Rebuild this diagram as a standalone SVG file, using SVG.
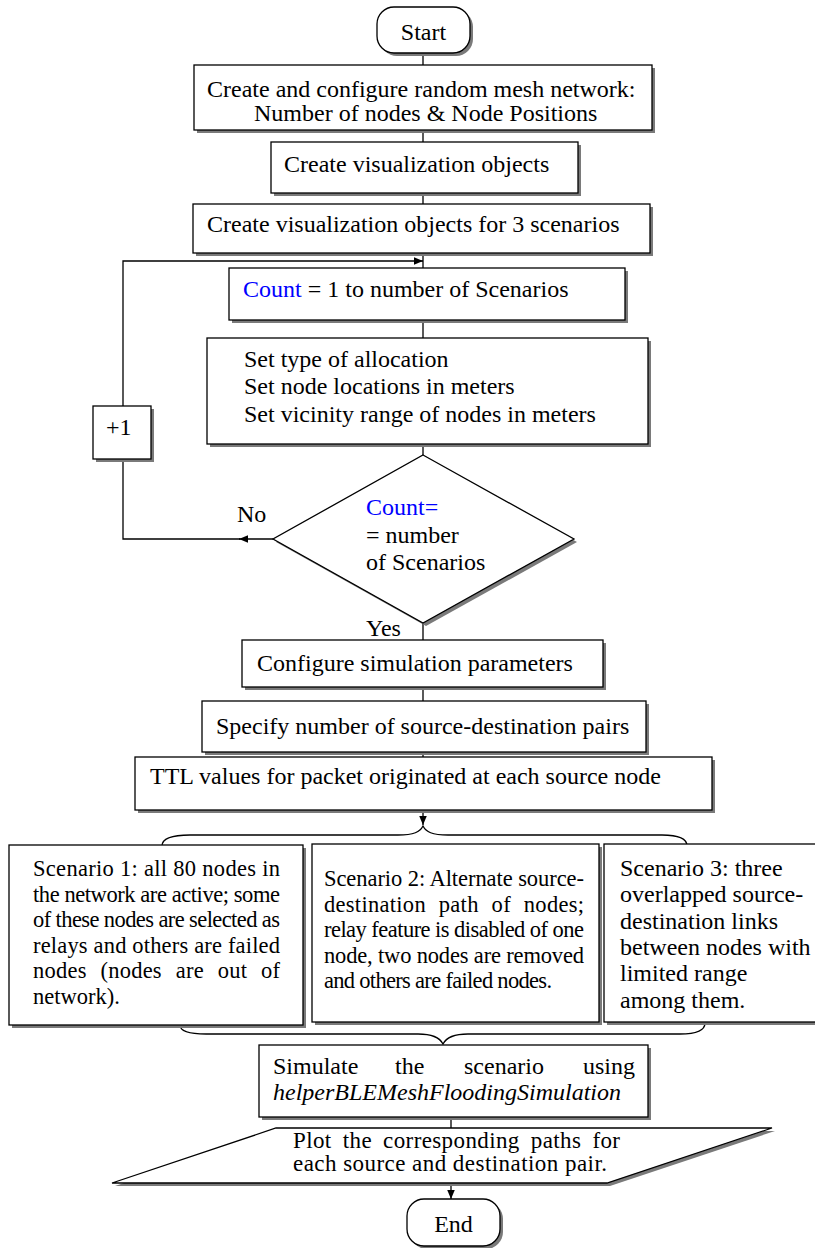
<svg xmlns="http://www.w3.org/2000/svg" width="815" height="1248" viewBox="0 0 815 1248">
<style>
.bx{fill:#fff;stroke:#000;stroke-width:1.3}
.sh{fill:#7a7a7a;stroke:none}
.ln{fill:none;stroke:#000;stroke-width:1.3}
.t{font-family:"Liberation Serif","Times New Roman",serif;font-size:24px;fill:#000}
.s{font-size:22.5px}
.p{font-size:23px}
.blue{fill:#0000ff}
.it{font-style:italic}
</style>
<defs>
<marker id="ah" viewBox="0 0 10 10" refX="10" refY="5" markerWidth="9" markerHeight="9" markerUnits="userSpaceOnUse" orient="auto">
<path d="M0,0.8 L10,5 L0,9.2 z" fill="#000"/>
</marker>
</defs>
<rect width="815" height="1248" fill="#fff"/>

<g id="connectors">
<path class="ln" d="M423,53 V65"/>
<path class="ln" d="M423,130 V142"/>
<path class="ln" d="M423,193 V204"/>
<path class="ln" d="M423,253 V268"/>
<path class="ln" d="M423,320 V338"/>
<path class="ln" d="M423,444 V455"/>
<path class="ln" d="M423,623 V640"/>
<path class="ln" d="M423,687 V701"/>
<path class="ln" d="M423,752 V757"/>
<path class="ln" d="M123,406 V261 H423" marker-end="url(#ah)"/>
<path class="ln" d="M273,539 H239" marker-end="url(#ah)"/>
<path class="ln" d="M240,539 H123 V459"/>
<path class="ln" d="M423,810 V825" marker-end="url(#ah)"/>
<path class="ln" d="M162,846 C162,838 172,835 190,835 L398,835 C414,835 420,832 423,826 C426,832 432,835 448,835 L662,835 C678,835 687,838 687,846"/>
<path class="ln" d="M180,1025 C180,1031 190,1034 206,1034 L418,1034 C434,1034 440,1038 443,1044 C446,1038 452,1034 468,1034 L680,1034 C696,1034 705,1030 705,1023"/>
<path class="ln" d="M451,1117 V1128"/>
<path class="ln" d="M451,1183 V1199" marker-end="url(#ah)"/>
<text class="t" x="237" y="522">No</text>
<text class="t" x="366" y="636">Yes</text>
</g>

<g id="start">
<rect class="sh" x="380" y="10" width="93" height="46" rx="17"/>
<rect class="bx" x="377" y="7" width="93" height="46" rx="17"/>
<text class="t" x="423.5" y="40" text-anchor="middle">Start</text>
</g>

<g id="create-network">
<rect class="sh" x="197" y="68" width="458" height="65"/>
<rect class="bx" x="194" y="65" width="458" height="65"/>
<text class="t" x="207" y="97">Create and configure random mesh network:</text>
<text class="t" x="254" y="121">Number of nodes &amp; Node Positions</text>
</g>

<g id="create-vis">
<rect class="sh" x="274" y="145" width="307" height="51"/>
<rect class="bx" x="271" y="142" width="307" height="51"/>
<text class="t" x="284" y="172">Create visualization objects</text>
</g>

<g id="create-vis3">
<rect class="sh" x="196" y="207" width="457" height="49"/>
<rect class="bx" x="193" y="204" width="457" height="49"/>
<text class="t" x="207" y="232">Create visualization objects for 3 scenarios</text>
</g>

<g id="count-loop">
<rect class="sh" x="232" y="271" width="396" height="52"/>
<rect class="bx" x="229" y="268" width="396" height="52"/>
<text class="t" x="243" y="297"><tspan class="blue">Count</tspan> = 1 to number of Scenarios</text>
</g>

<g id="set-params">
<rect class="sh" x="210" y="341" width="441" height="106"/>
<rect class="bx" x="207" y="338" width="441" height="106"/>
<text class="t" x="244" y="367">Set type of allocation</text>
<text class="t" x="244" y="394">Set node locations in meters</text>
<text class="t" x="244" y="422">Set vicinity range of nodes in meters</text>
</g>

<g id="plus-one">
<rect class="sh" x="96" y="409" width="58" height="53"/>
<rect class="bx" x="93" y="406" width="58" height="53"/>
<text class="t" x="106" y="435">+1</text>
</g>

<g id="decision">
<polygon class="sh" points="426,458 577,542 426,626 276,542"/>
<polygon class="bx" points="423,455 574,539 423,623 273,539"/>
<text class="t" x="366" y="515"><tspan class="blue">Count=</tspan></text>
<text class="t" x="366" y="543">= number</text>
<text class="t" x="366" y="570">of Scenarios</text>
</g>

<g id="configure">
<rect class="sh" x="245" y="643" width="361" height="47"/>
<rect class="bx" x="242" y="640" width="361" height="47"/>
<text class="t" x="257" y="671">Configure simulation parameters</text>
</g>

<g id="specify">
<rect class="sh" x="205" y="704" width="444" height="51"/>
<rect class="bx" x="202" y="701" width="444" height="51"/>
<text class="t" x="216" y="734">Specify number of source-destination pairs</text>
</g>

<g id="ttl">
<rect class="sh" x="138" y="760" width="577" height="53"/>
<rect class="bx" x="135" y="757" width="577" height="53"/>
<text class="t" x="150" y="784">TTL values for packet originated at each source node</text>
</g>

<g id="scenario1">
<rect class="sh" x="12" y="848" width="294" height="180"/>
<rect class="bx" x="9" y="845" width="294" height="180"/>
<text class="t s" x="33" y="876" textLength="247" lengthAdjust="spacing">Scenario 1: all 80 nodes in</text>
<text class="t s" x="33" y="901.5" textLength="247" lengthAdjust="spacing">the network are active; some</text>
<text class="t s" x="33" y="927" textLength="247" lengthAdjust="spacing">of these nodes are selected as</text>
<text class="t s" x="33" y="952.5" textLength="247" lengthAdjust="spacing">relays and others are failed</text>
<text class="t s" x="33" y="978" word-spacing="8" textLength="247" lengthAdjust="spacing">nodes (nodes are out of</text>
<text class="t s" x="33" y="1003.5">network).</text>
</g>

<g id="scenario2">
<rect class="sh" x="315" y="847" width="287" height="178"/>
<rect class="bx" x="312" y="844" width="287" height="178"/>
<text class="t s" x="324" y="886" textLength="260" lengthAdjust="spacing">Scenario 2: Alternate source-</text>
<text class="t s" x="324" y="911.5" word-spacing="7" textLength="260" lengthAdjust="spacing">destination path of nodes;</text>
<text class="t s" x="324" y="937" textLength="260" lengthAdjust="spacing">relay feature is disabled of one</text>
<text class="t s" x="324" y="962.5" textLength="260" lengthAdjust="spacing">node, two nodes are removed</text>
<text class="t s" x="324" y="988" textLength="228" lengthAdjust="spacing">and others are failed nodes.</text>
</g>

<g id="scenario3">
<rect class="sh" x="607" y="847" width="230" height="178"/>
<rect class="bx" x="604" y="844" width="230" height="178"/>
<text class="t" x="620" y="876">Scenario 3: three</text>
<text class="t" x="620" y="902">overlapped source-</text>
<text class="t" x="620" y="929">destination links</text>
<text class="t" x="620" y="955">between nodes with</text>
<text class="t" x="620" y="981">limited range</text>
<text class="t" x="620" y="1008">among them.</text>
</g>

<g id="simulate">
<rect class="sh" x="262" y="1048" width="389" height="72"/>
<rect class="bx" x="259" y="1045" width="389" height="72"/>
<text class="t" y="1074"><tspan x="273">Simulate</tspan><tspan x="395">the</tspan><tspan x="464">scenario</tspan><tspan x="583">using</tspan></text>
<text class="t it" x="273" y="1100">helperBLEMeshFloodingSimulation</text>
</g>

<g id="plot">
<polygon class="sh" points="279,1131 775,1131 610,1186 115,1186"/>
<polygon class="bx" points="276,1128 772,1128 607,1183 112,1183"/>
<text class="t p" x="293" y="1148" word-spacing="5" textLength="327" lengthAdjust="spacing">Plot the corresponding paths for</text>
<text class="t p" x="293" y="1171" textLength="314" lengthAdjust="spacing">each source and destination pair.</text>
</g>

<g id="end">
<rect class="sh" x="410" y="1202" width="93" height="47" rx="17"/>
<rect class="bx" x="407" y="1199" width="93" height="47" rx="17"/>
<text class="t" x="453.5" y="1232" text-anchor="middle">End</text>
</g>
</svg>
